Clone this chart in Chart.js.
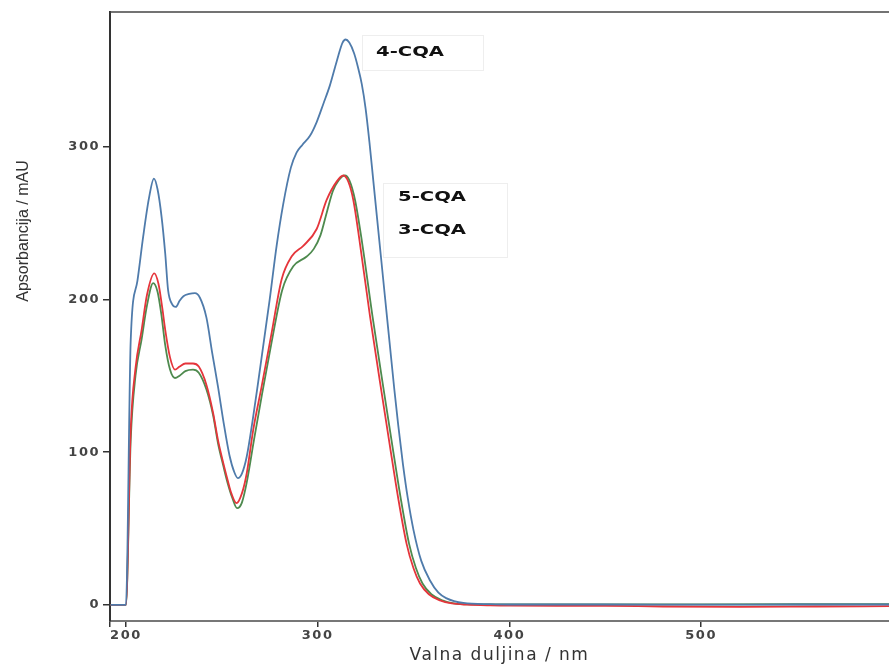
<!DOCTYPE html>
<html>
<head>
<meta charset="utf-8">
<script src="https://cdn.jsdelivr.net/npm/chart.js@4.4.1/dist/chart.umd.min.js"></script>
<style>
  html, body { margin: 0; padding: 0; background: #fff; }
  #wrap { width: 889px; height: 666px; }
</style>
</head>
<body>
<div id="wrap"><canvas id="uv"></canvas></div>
<script>
// wavelength (nm) / absorbance (mAU)
const cqa4Nm  = [192, 200, 202.5, 206, 209, 212, 214.6, 216.5, 218.6, 220.5, 222, 224, 226, 228, 230, 233, 236, 238.6, 242, 245, 248, 251, 254, 256.5, 258.4, 260.5, 263, 266, 269, 272, 275, 278.6, 282, 286, 289, 292, 296, 299.5, 303, 306.4, 310, 313, 314.6, 316.5, 319, 321, 323, 325, 327, 329, 331, 333, 335, 337.5, 340, 342, 344.5, 347, 350, 354, 358.6, 363, 367, 376, 390, 400, 450, 500, 550, 598];
const cqa4Abs = [0, 0, 173, 212, 241, 266, 279, 272, 254, 230, 206, 197, 195, 199, 202, 203.5, 204, 201, 188, 165, 143, 119, 98, 87, 83, 86, 97, 120, 146, 173, 200, 235, 262, 286, 296, 301, 307, 316, 328, 340, 356, 368, 370, 368, 361, 352, 341, 325, 303, 278, 253, 228, 203, 172, 141, 118, 92, 70, 49, 29, 16, 8, 4.5, 1.3, 0.5, 0.3, 0.3, 0.2, 0.3, 0.3];

const cqa5Nm  = [192, 200, 202.5, 205, 208.2, 211, 214.8, 217, 219, 220.5, 223, 225.6, 228, 231, 235, 238, 242, 245.5, 248, 250.8, 253, 255, 257.7, 260.5, 263, 266.4, 270.8, 276, 281.2, 286.4, 292.5, 299.5, 304.7, 309.9, 313.4, 316, 318.6, 322, 327.3, 332.5, 337.7, 342, 346.4, 350, 353.4, 358, 363.8, 370, 378, 390, 400, 450, 480, 520, 560, 598];
const cqa5Abs = [0, 0, 115, 155, 180, 203, 217, 210, 194, 180, 162, 154, 156, 158, 158, 156, 144, 125.5, 108, 92.8, 82, 73, 66.6, 73, 86, 114.6, 143, 178, 213, 228, 235, 246, 265, 277, 281, 277, 265, 237, 189, 146, 104, 70, 40, 24, 14, 7, 3, 1, 0.2, -0.3, -0.5, -0.6, -1, -1.2, -1, -0.8];

const cqa3Nm  = [192, 200, 202.5, 205, 208.2, 211, 214.2, 216.5, 218.5, 220.5, 223, 225.6, 228, 231, 235, 238, 242, 245.5, 248, 250.8, 253, 255.5, 258, 260.5, 263, 266.8, 271, 276, 281.5, 287.3, 294.3, 298, 301.5, 305, 308, 311, 314.2, 316.5, 319.5, 323.2, 328.6, 333.8, 339, 343.3, 347.7, 351.3, 354.7, 359.3, 365, 371, 379, 390, 400, 500, 598];
const cqa3Abs = [0, 0, 108, 150, 174, 196, 210.6, 205, 190, 170, 154, 148.5, 150, 153, 154, 152, 141, 124, 106, 91, 80, 70, 63.3, 67, 80, 108, 138, 172, 206, 221.6, 228, 233, 242, 258, 271, 278, 281, 278, 265, 237, 189, 146, 104, 70, 40, 24, 14, 7, 3, 1, 0.4, 0.4, 0.3, 0.4, 0.5];

const xTicks = [200, 300, 400, 500];
const yTicks = [0, 100, 200, 300];
const xMin = 191.7, xMax = 598;
const yMin = -10.5, yMax = 388;

function pts(nm, abs) {
    return nm.map((x, i) => ({ x: x, y: abs[i] }));
}

// draws the frame top, the y title and the peak labels
const extras = {
    id: 'extras',
    beforeDraw(chart) {
        chart.ctx.letterSpacing = '1.5px'; // the reference text is stretched wide
    },
    afterDraw(chart) {
        const ctx = chart.ctx;
        const a = chart.chartArea;
        ctx.save();
        ctx.letterSpacing = '0px';

        ctx.strokeStyle = '#444';
        ctx.lineWidth = 1.5;
        ctx.beginPath();
        ctx.moveTo(a.left, a.top);
        ctx.lineTo(a.right, a.top);
        ctx.stroke();

        // y title
        ctx.save();
        ctx.translate(24, 231);
        ctx.rotate(-Math.PI / 2);
        ctx.fillStyle = '#333';
        ctx.font = '16px "Liberation Sans Narrow", "Liberation Sans", sans-serif';
        ctx.textAlign = 'center';
        ctx.textBaseline = 'middle';
        ctx.fillText('Apsorbancija / mAU', 0, 0);
        ctx.restore();

        // label boxes
        ctx.strokeStyle = '#eeeeee';
        ctx.lineWidth = 1;
        ctx.strokeRect(362.5, 35.5, 121, 35);
        ctx.strokeRect(383.5, 183.5, 124, 74);

        const label = (txt, x, y) => {
            ctx.save();
            ctx.translate(x, y);
            ctx.scale(1.4, 1);
            ctx.fillStyle = '#111';
            ctx.font = 'bold 14px "DejaVu Sans", sans-serif';
            ctx.textBaseline = 'middle';
            ctx.fillText(txt, 0, 0);
            ctx.restore();
        };
        label('4-CQA', 376, 52);
        label('5-CQA', 398, 197);
        label('3-CQA', 398, 230);
        ctx.restore();
    },
    afterRender(chart) {
        chart.ctx.letterSpacing = '0px';
    }
};

new Chart(document.getElementById('uv').getContext('2d'), {
    type: 'line',
    data: {
        datasets: [
            { label: '4-CQA', data: pts(cqa4Nm, cqa4Abs), borderColor: '#4f7bab' },
            { label: '5-CQA', data: pts(cqa5Nm, cqa5Abs), borderColor: '#e5353b' },
            { label: '3-CQA', data: pts(cqa3Nm, cqa3Abs), borderColor: '#4e8a4e' }
        ]
    },
    options: {
        responsive: true,
        maintainAspectRatio: false,
        animation: false,
        parsing: false,
        elements: {
            line: { borderWidth: 1.8, cubicInterpolationMode: 'monotone', fill: false },
            point: { radius: 0 }
        },
        layout: { padding: { top: 12, right: 0, left: 0, bottom: 0 } },
        plugins: {
            legend: { display: false },
            tooltip: { enabled: false }
        },
        scales: {
            x: {
                type: 'linear',
                min: xMin,
                max: xMax,
                afterBuildTicks: s => { s.ticks = [xMin].concat(xTicks).map(v => ({ value: v })); },
                afterFit: s => { s.height = 45; },
                grid: { drawOnChartArea: false, drawTicks: true, tickLength: 6, color: '#333', lineWidth: 1.5 },
                border: { color: '#777', width: 2 },
                ticks: {
                    autoSkip: false,
                    maxRotation: 0,
                    padding: 1,
                    color: '#444',
                    font: { family: 'DejaVu Sans', size: 13, weight: 'bold' },
                    callback: v => (v === xMin ? '' : v)
                },
                title: {
                    display: true,
                    text: 'Valna duljina / nm',
                    color: '#333',
                    font: { family: 'DejaVu Sans', size: 17 },
                    padding: { top: 2, bottom: 0 }
                }
            },
            y: {
                min: yMin,
                max: yMax,
                afterBuildTicks: s => { s.ticks = yTicks.map(v => ({ value: v })); },
                afterFit: s => { s.width = 110; },
                grid: { drawOnChartArea: false, drawTicks: true, tickLength: 7, color: '#333', lineWidth: 1.5 },
                border: { color: '#333', width: 2 },
                ticks: {
                    padding: 3,
                    color: '#444',
                    font: { family: 'DejaVu Sans', size: 13, weight: 'bold' }
                }
            }
        }
    },
    plugins: [extras]
});
</script>
</body>
</html>
